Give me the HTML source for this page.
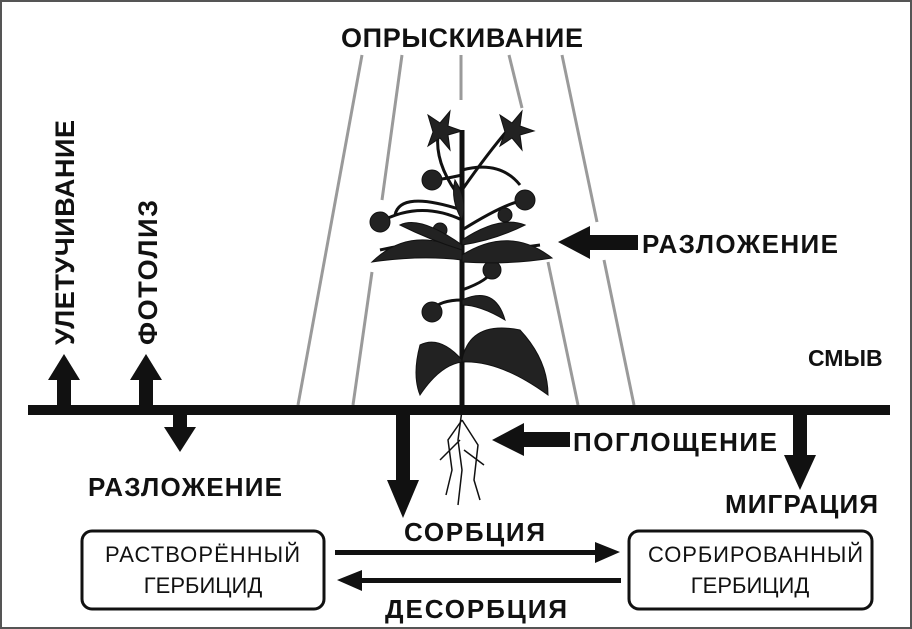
<!DOCTYPE html>
<html><head><meta charset="utf-8"><style>
html,body{margin:0;padding:0;background:#fff}
svg{display:block}
text{font-family:"Liberation Sans",sans-serif;font-weight:bold;fill:#111}
</style></head><body>
<svg width="912" height="629" viewBox="0 0 912 629" xmlns="http://www.w3.org/2000/svg">
<rect x="1" y="1" width="910" height="627" fill="#fff" stroke="#555" stroke-width="2"/>
<g stroke="#9a9a9a" stroke-width="3" fill="none">
<line x1="362" y1="55" x2="298" y2="405"/>
<line x1="402" y1="55" x2="382" y2="200"/>
<line x1="372" y1="272" x2="353" y2="405"/>
<line x1="461" y1="55" x2="461" y2="100"/>
<line x1="509" y1="55" x2="522" y2="108"/>
<line x1="548" y1="262" x2="578" y2="405"/>
<line x1="562" y1="55" x2="597" y2="222"/>
<line x1="604" y1="260" x2="634" y2="405"/>
</g>
<text x="462" y="47" font-size="27" text-anchor="middle" textLength="242">ОПРЫСКИВАНИЕ</text>
<g stroke="#111" fill="#222">
<line x1="462" y1="130" x2="462" y2="410" stroke-width="5"/>
<g fill="none" stroke-width="3">
<path d="M462 200 Q430 160 440 125"/><path d="M462 190 Q490 150 512 125"/>
<path d="M462 220 Q420 200 380 222"/><path d="M462 230 Q510 200 528 200"/>
<path d="M462 260 Q500 250 540 245"/><path d="M462 250 Q420 240 380 250"/>
<path d="M462 300 Q440 300 432 310"/><path d="M462 290 Q490 280 492 270"/>
<path d="M462 175 Q440 180 432 180"/><path d="M462 170 Q500 160 520 185"/>
<path d="M462 210 Q400 190 395 215"/>
</g>
<g stroke-width="1">
<path d="M428 115 l12 8 l10 -12 l-2 15 l14 5 l-14 4 l2 15 l-10 -12 l-12 8 l5 -14z"/>
<path d="M500 115 l12 8 l10 -12 l-2 15 l14 5 l-14 4 l2 15 l-10 -12 l-12 8 l5 -14z"/>
<circle cx="380" cy="222" r="10"/><circle cx="432" cy="180" r="10"/><circle cx="525" cy="200" r="10"/><circle cx="432" cy="312" r="10"/><circle cx="492" cy="270" r="9"/><circle cx="440" cy="230" r="7"/><circle cx="505" cy="215" r="7"/>
<path d="M462 250 Q410 225 372 262 Q420 255 462 260Z"/>
<path d="M462 255 Q510 225 552 258 Q510 265 462 262Z"/>
<path d="M462 245 Q420 215 400 225 Q430 240 462 250Z"/>
<path d="M462 240 Q500 215 525 225 Q495 240 462 245Z"/>
<path d="M462 360 Q470 320 520 330 Q548 360 548 395 Q500 360 462 362Z"/>
<path d="M462 360 Q440 335 420 345 Q412 375 420 395 Q440 365 462 362Z"/>
<path d="M462 220 Q450 200 455 180 Q468 200 462 220Z"/>
<path d="M462 300 Q495 285 505 320 Q480 305 462 305Z"/>
</g>
<g fill="none" stroke-width="1.5">
<path d="M462 410 L458 440 L462 470 L458 505"/><path d="M462 420 L448 440 L452 470 L446 495"/>
<path d="M462 420 L478 445 L474 480 L480 500"/><path d="M460 440 L440 460"/><path d="M464 450 L484 465"/>
</g>
</g>
<rect x="28" y="405" width="862" height="10" fill="#111"/>
<g fill="#111">
<rect x="57" y="378" width="14" height="30"/><polygon points="48,380 80,380 64,354"/>
<rect x="139" y="378" width="14" height="30"/><polygon points="130,380 162,380 146,354"/>
<rect x="173" y="412" width="14" height="16"/><polygon points="164,427 196,427 180,452"/>
<rect x="396" y="412" width="14" height="70"/><polygon points="387,480 419,480 403,518"/>
<rect x="793" y="412" width="14" height="45"/><polygon points="784,455 816,455 800,490"/>
<rect x="588" y="235" width="50" height="15"/><polygon points="590,226 590,259 558,242"/>
<rect x="522" y="432" width="48" height="15"/><polygon points="524,423 524,456 492,440"/>
</g>
<text transform="translate(74,345) rotate(-90)" font-size="27" textLength="225">УЛЕТУЧИВАНИЕ</text>
<text transform="translate(157,345) rotate(-90)" font-size="27" textLength="145">ФОТОЛИЗ</text>
<text x="642" y="253" font-size="26" textLength="196">РАЗЛОЖЕНИЕ</text>
<text x="808" y="366" font-size="23">СМЫВ</text>
<text x="573" y="451" font-size="26" textLength="204">ПОГЛОЩЕНИЕ</text>
<text x="88" y="496" font-size="26" textLength="194">РАЗЛОЖЕНИЕ</text>
<text x="725" y="513" font-size="26" textLength="153">МИГРАЦИЯ</text>
<text x="404" y="541" font-size="26" textLength="141">СОРБЦИЯ</text>
<text x="385" y="618" font-size="26" textLength="182">ДЕСОРБЦИЯ</text>
<rect x="82" y="531" width="242" height="78" rx="10" fill="#fff" stroke="#111" stroke-width="3"/>
<rect x="629" y="531" width="243" height="78" rx="10" fill="#fff" stroke="#111" stroke-width="3"/>
<text x="105" y="562" font-size="22" style="font-weight:normal" textLength="195">РАСТВОРЁННЫЙ</text>
<text x="203" y="593" font-size="22" text-anchor="middle" style="font-weight:normal">ГЕРБИЦИД</text>
<text x="648" y="562" font-size="22" style="font-weight:normal" textLength="215">СОРБИРОВАННЫЙ</text>
<text x="750" y="593" font-size="22" text-anchor="middle" style="font-weight:normal">ГЕРБИЦИД</text>
<g fill="#111">
<rect x="335" y="550" width="262" height="5"/><polygon points="595,542 595,563 620,552"/>
<rect x="360" y="578" width="261" height="5"/><polygon points="362,570 362,591 337,580"/>
</g>
</svg>
</body></html>
